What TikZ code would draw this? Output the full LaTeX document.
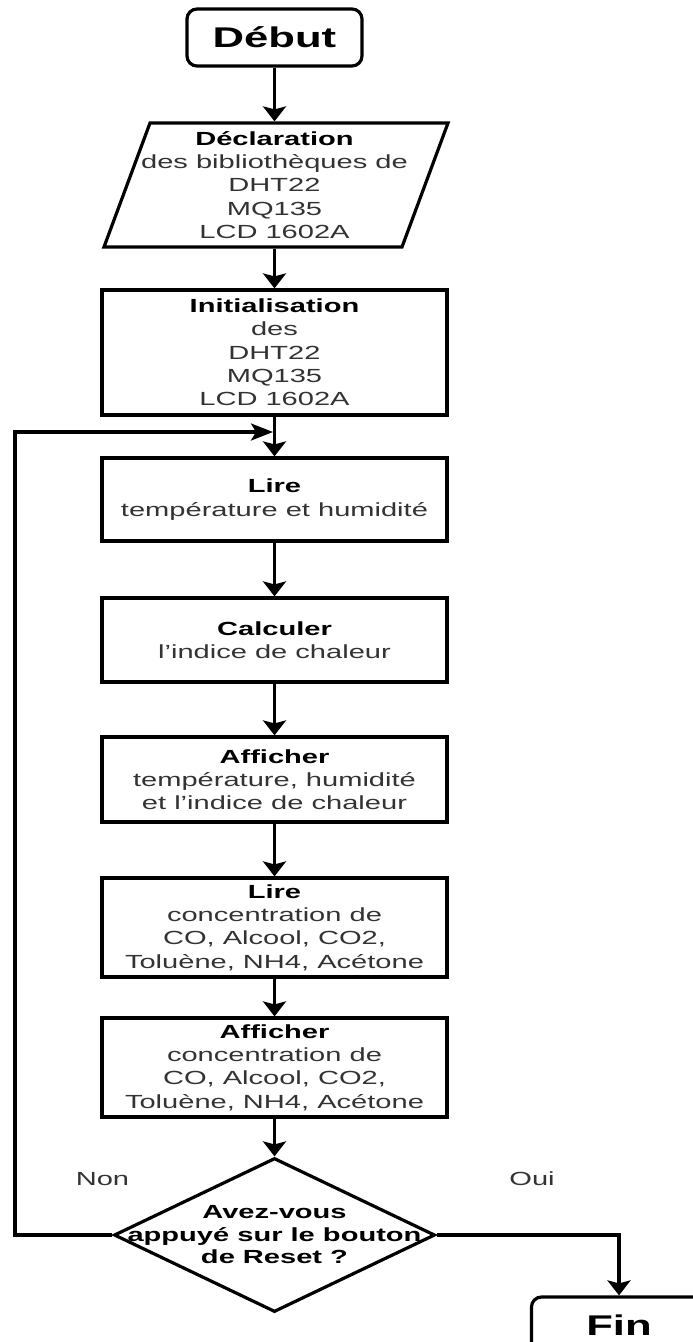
\documentclass[tikz,border=0pt]{standalone}
\usepackage{fontspec}
\setmainfont{Liberation Sans}[FakeStretch=1.53]
\usetikzlibrary{arrows.meta,shapes.geometric}
\newcommand{\boldhead}[1]{{\color{black}\bfseries #1}}
\tikzset{
  base/.style={line width=3.2pt, draw=black},
  proc/.style={base, rectangle, minimum width=345pt, inner sep=2pt, align=center,
    text=black!80, font=\fontsize{19pt}{23.3pt}\selectfont},
  term/.style={base, rectangle, rounded corners=10pt, minimum width=175pt,
    minimum height=57pt, font=\fontsize{28.5pt}{34pt}\selectfont\bfseries},
  arr/.style={line width=3.2pt, -{Stealth[length=15pt,width=23pt,inset=3pt]}},
  harr/.style={line width=3.2pt, -{Stealth[length=22pt,width=17pt,inset=5pt]}},
  lbl/.style={text=black!80, font=\fontsize{19pt}{23.3pt}\selectfont},
}
\begin{document}
\begin{tikzpicture}[x=1pt,y=-1pt]
\clip (0,0) rectangle (693,1342);
\fill[white] (0,0) rectangle (693,1342);

\node[term] (debut) at (274.5,37.5) {Début};

\draw[base] (150,123) -- (448,123) -- (402,247) -- (104,247) -- cycle;
\node[proc, draw=none, minimum height=124pt] (decl) at (274.5,185)
  {\boldhead{Déclaration}\\des bibliothèques de\\DHT22\\MQ135\\LCD 1602A};

\node[proc, minimum height=125pt] (init) at (274.5,352.5)
  {\boldhead{Initialisation}\\des\\DHT22\\MQ135\\LCD 1602A};

\node[proc, minimum height=83pt] (lire1) at (274.5,499.5)
  {\boldhead{Lire}\\température et humidité};

\node[proc, minimum height=84pt] (calc) at (274.5,640)
  {\boldhead{Calculer}\\l’indice de chaleur};

\node[proc, minimum height=85pt] (aff1) at (274.5,779.5)
  {\boldhead{Afficher}\\température, humidité\\et l’indice de chaleur};

\node[proc, minimum height=99pt] (lire2) at (274.5,927.5)
  {\boldhead{Lire}\\concentration de\\CO, Alcool, CO2,\\Toluène, NH4, Acétone};

\node[proc, minimum height=99pt] (aff2) at (274.5,1067.5)
  {\boldhead{Afficher}\\concentration de\\CO, Alcool, CO2,\\Toluène, NH4, Acétone};

\node[base, diamond, minimum width=321pt, minimum height=154pt, inner sep=0pt] (dec) at (274.5,1235) {};
\node[align=center, text=black, font=\fontsize{19pt}{22.5pt}\selectfont\bfseries] (dectext) at (dec)
  {Avez-vous\\appuyé sur le bouton\\de Reset ?};

\node[term] (fin) at (619,1325.5) {Fin};

\node[lbl] (non) at (102.5,1179) {Non};
\node[lbl] (oui) at (532,1179) {Oui};

\coordinate (join) at (273,432);
\coordinate (loopcorner) at (15,432);

\draw[arr] (debut.south) -- (decl.north);
\draw[arr] (decl.south) -- (init.north);
\draw[arr] (init.south) -- (lire1.north);
\draw[arr] (lire1.south) -- (calc.north);
\draw[arr] (calc.south) -- (aff1.north);
\draw[arr] (aff1.south) -- (lire2.north);
\draw[arr] (lire2.south) -- (aff2.north);
\draw[arr] (aff2.south) -- (dec.north);
\draw[harr] (dec.west) -| (loopcorner) -- (join);
\draw[arr] (dec.east) -| (fin.north);
\end{tikzpicture}
\end{document}
